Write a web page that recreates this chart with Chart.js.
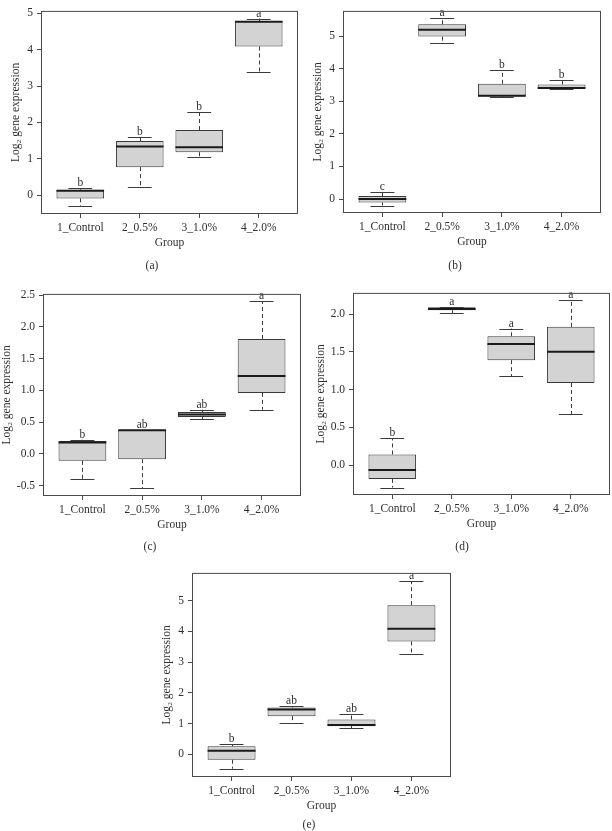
<!DOCTYPE html>
<html>
<head>
<meta charset="utf-8">
<script src="https://cdn.jsdelivr.net/npm/chart.js@4/dist/chart.umd.min.js"></script>
<style>
  body { margin: 0; background: #fff; width: 612px; height: 831px; position: relative; overflow: hidden; }
  canvas { position: absolute; }
</style>
</head>
<body>
<script>
const groups = ['1_Control', '2_0.5%', '3_1.0%', '4_2.0%'];

// [lower whisker, Q1, median, Q3, upper whisker] per group
const statsA = [[-0.31, -0.09, 0.12, 0.15, 0.19], [0.22, 0.77, 1.34, 1.49, 1.61], [1.04, 1.18, 1.32, 1.79, 2.28], [3.40, 4.09, 4.77, 4.79, 4.86]];
const lettersA = ['b', 'b', 'b', 'a'];
const ticksA = [0, 1, 2, 3, 4, 5];

const statsB = [[-0.20, -0.11, 0.00, 0.09, 0.20], [4.78, 4.99, 5.20, 5.37, 5.55], [3.12, 3.15, 3.17, 3.54, 3.95], [3.38, 3.39, 3.41, 3.52, 3.67]];
const lettersB = ['c', 'a', 'b', 'b'];
const ticksB = [0, 1, 2, 3, 4, 5];

const statsC = [[-0.395, -0.11, 0.18, 0.20, 0.22], [-0.545, -0.085, 0.37, 0.375, 0.375], [0.55, 0.58, 0.62, 0.66, 0.695], [0.695, 0.96, 1.225, 1.81, 2.405]];
const lettersC = ['b', 'ab', 'ab', 'a'];
const ticksC = [-0.5, 0, 0.5, 1, 1.5, 2, 2.5];

const statsD = [[-0.294, -0.18, -0.063, 0.143, 0.357], [2.013, 2.05, 2.067, 2.088, 2.09], [1.176, 1.39, 1.605, 1.706, 1.807], [0.676, 1.088, 1.5, 1.83, 2.18]];
const lettersD = ['b', 'a', 'a', 'a'];
const ticksD = [0, 0.5, 1, 1.5, 2];

const statsE = [[-0.47, -0.18, 0.11, 0.26, 0.32], [1.03, 1.24, 1.455, 1.52, 1.56], [0.85, 0.915, 0.95, 1.13, 1.31], [3.27, 3.67, 4.085, 4.85, 5.63]];
const lettersE = ['b', 'ab', 'ab', 'a'];
const ticksE = [0, 1, 2, 3, 4, 5];

// layout: plot box [left, top, right, bottom] in page pixels
const panels = [
  { name: '(a)', stats: statsA, letters: lettersA, ticks: ticksA, yMin: -0.52, yMax: 5.07, digits: 0, plot: [41, 1, 298, 214], left: 0, titlePad: 9, caption: [152, 266] },
  { name: '(b)', stats: statsB, letters: lettersB, ticks: ticksB, yMin: -0.43, yMax: 5.78, digits: 0, plot: [343, 1, 601, 213], left: 300, titlePad: 11.3, caption: [455, 266] },
  { name: '(c)', stats: statsC, letters: lettersC, ticks: ticksC, yMin: -0.665, yMax: 2.52, digits: 1, plot: [43, 284, 301, 496], left: 0, titlePad: 0, caption: [150, 547] },
  { name: '(d)', stats: statsD, letters: lettersD, ticks: ticksD, yMin: -0.393, yMax: 2.279, digits: 1, plot: [353, 283, 610, 495], left: 300, titlePad: 14, caption: [462, 547] },
  { name: '(e)', stats: statsE, letters: lettersE, ticks: ticksE, yMin: -0.74, yMax: 5.9, digits: 0, plot: [192, 563, 451, 777], left: 150, titlePad: 9.7, caption: [309, 825] }
];

const FONT = "'Liberation Serif', serif";
const SIZE = 11.5;
const INK = '#2e2e2e';
const LINE = '#3a3a3a';
const AXIS_H = 36;
const EXTRA = 58;

const boxPlot = {
  id: 'boxPlot',
  beforeDatasetsDraw(chart, args, opts) {
    const ctx = chart.ctx, x = chart.scales.x, y = chart.scales.y;
    ctx.save();
    ctx.strokeStyle = LINE;
    ctx.lineWidth = 1;
    opts.stats.forEach((s, i) => {
      const cx = Math.round(x.getPixelForValue(i + 1)) + 0.5;
      ctx.setLineDash([4, 3]);
      ctx.beginPath();
      ctx.moveTo(cx, y.getPixelForValue(s[3]));
      ctx.lineTo(cx, y.getPixelForValue(s[4]));
      ctx.moveTo(cx, y.getPixelForValue(s[1]));
      ctx.lineTo(cx, y.getPixelForValue(s[0]));
      ctx.stroke();
      ctx.setLineDash([]);
      ctx.beginPath();
      [s[0], s[4]].forEach(v => {
        const py = Math.round(y.getPixelForValue(v)) + 0.5;
        ctx.moveTo(x.getPixelForValue(i + 0.8), py);
        ctx.lineTo(x.getPixelForValue(i + 1.2), py);
      });
      ctx.stroke();
    });
    ctx.restore();
  },
  afterDatasetsDraw(chart, args, opts) {
    const ctx = chart.ctx, x = chart.scales.x, y = chart.scales.y;
    ctx.save();
    ctx.strokeStyle = '#1a1a1a';
    ctx.lineWidth = 2;
    opts.stats.forEach((s, i) => {
      const py = y.getPixelForValue(s[2]);
      ctx.beginPath();
      ctx.moveTo(x.getPixelForValue(i + 0.6), py);
      ctx.lineTo(x.getPixelForValue(i + 1.4), py);
      ctx.stroke();
    });
    ctx.fillStyle = INK;
    ctx.font = SIZE + 'px ' + FONT;
    ctx.textAlign = 'center';
    ctx.textBaseline = 'alphabetic';
    opts.letters.forEach((t, i) => {
      ctx.fillText(t, x.getPixelForValue(i + 1), y.getPixelForValue(opts.stats[i][4]) - 2);
    });
    ctx.restore();
  },
  afterDraw(chart, args, opts) {
    const ctx = chart.ctx, a = chart.chartArea;
    ctx.save();
    ctx.strokeStyle = '#4a4a4a';
    ctx.lineWidth = 1;
    ctx.strokeRect(a.left + 0.5, a.top + 0.5, a.right - a.left - 1, a.bottom - a.top - 1);
    // panel caption
    ctx.fillStyle = INK;
    ctx.font = SIZE + 'px ' + FONT;
    ctx.textAlign = 'center';
    ctx.textBaseline = 'middle';
    ctx.fillText(opts.caption, opts.capX, opts.capY);
    ctx.restore();
  }
};

panels.forEach(p => {
  const [L, T, R, B] = p.plot;
  const top = T - 1;
  const canvas = document.createElement('canvas');
  canvas.width = R + 2 - p.left;
  canvas.height = B + AXIS_H + EXTRA - top;
  canvas.style.left = p.left + 'px';
  canvas.style.top = top + 'px';
  document.body.appendChild(canvas);

  new Chart(canvas, {
    type: 'bar',
    data: {
      datasets: [{
        data: p.stats.map((s, i) => ({ x: i + 1, y: [s[1], s[3]] })),
        backgroundColor: '#d3d3d3',
        borderColor: LINE,
        borderWidth: 1,
        borderSkipped: false,
        barPercentage: 0.8,
        categoryPercentage: 1
      }]
    },
    options: {
      responsive: false,
      animation: false,
      layout: { padding: { top: 1, right: 2, left: 0, bottom: EXTRA } },
      plugins: {
        legend: { display: false },
        tooltip: { enabled: false },
        boxPlot: { stats: p.stats, letters: p.letters, caption: p.name, capX: p.caption[0] - p.left, capY: p.caption[1] - top }
      },
      scales: {
        x: {
          type: 'linear',
          offset: false,
          min: 0.34,
          max: 4.66,
          afterBuildTicks: s => { s.ticks = groups.map((g, i) => ({ value: i + 1 })); },
          afterFit: s => { s.height = AXIS_H; },
          ticks: { callback: v => groups[v - 1], color: INK, font: { family: FONT, size: SIZE }, padding: 3, maxRotation: 0, autoSkip: false },
          grid: { display: true, offset: false, drawOnChartArea: false, drawTicks: true, tickLength: 4, color: '#4a4a4a' },
          border: { display: false },
          title: { display: true, text: 'Group', color: INK, font: { family: FONT, size: SIZE }, padding: { top: 0, bottom: 0 } }
        },
        y: {
          min: p.yMin,
          max: p.yMax,
          afterBuildTicks: s => { s.ticks = p.ticks.map(v => ({ value: v })); },
          afterFit: s => { s.width = L - p.left; },
          ticks: { callback: v => v.toFixed(p.digits), color: INK, font: { family: FONT, size: SIZE }, padding: 4 },
          grid: { display: true, drawOnChartArea: false, drawTicks: true, tickLength: 4, color: '#4a4a4a' },
          border: { display: false },
          title: { display: true, text: 'Log\u2082 gene expression', color: INK, font: { family: FONT, size: SIZE }, padding: { top: p.titlePad, bottom: 0 } }
        }
      }
    },
    plugins: [boxPlot]
  });
});
</script>
</body>
</html>
